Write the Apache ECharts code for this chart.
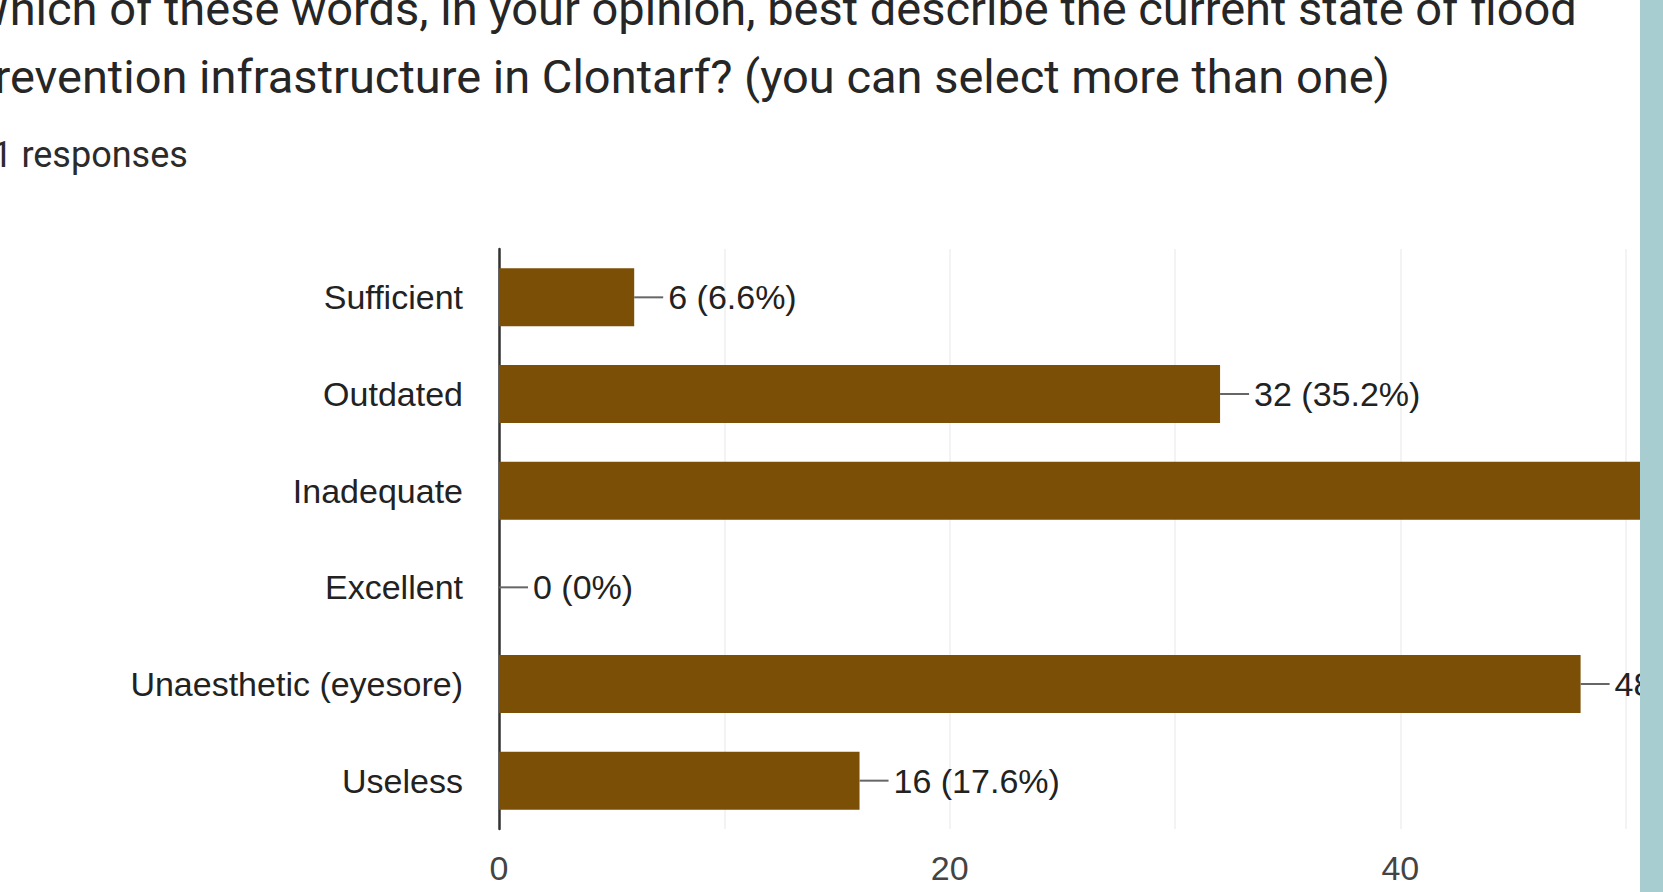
<!DOCTYPE html>
<html>
<head>
<meta charset="utf-8">
<script src="https://cdn.jsdelivr.net/npm/echarts@6/dist/echarts.min.js"></script>
<style>
  html, body { margin: 0; padding: 0; background: #ffffff; overflow: hidden; width: 1663px; height: 892px; }
  #chart { position: absolute; left: 0; top: 0; width: 1640px; height: 892px; overflow: hidden; }
  #edge { position: absolute; left: 1640px; top: 0; width: 23px; height: 892px; background: #a7cdd1; }
</style>
</head>
<body>
<div id="chart"></div>
<div id="edge"></div>
<script>
// Survey question and answer counts
const questionLines = [
  'Which of these words, in your opinion, best describe the current state of flood',
  'prevention infrastructure in Clontarf? (you can select more than one)'
];
const responseCount = 91;
const categories = ['Sufficient', 'Outdated', 'Inadequate', 'Excellent', 'Unaesthetic (eyesore)', 'Useless'];
const counts = [6, 32, 54, 0, 48, 16];
const axisMax = 60;
const axisStep = 10;
const labelStep = 20;

const chartFont = '"Liberation Sans", Arial, sans-serif';

function pctText(v) {
  const p = Math.round(v / responseCount * 1000) / 10;
  return p + '%';
}

const chart = echarts.init(document.getElementById('chart'), null, { renderer: 'svg' });

chart.setOption({
  animation: false,
  backgroundColor: '#ffffff',
  title: [
    {
      text: questionLines.join('\n'),
      left: -32,
      top: -26,
      padding: 0,
      textStyle: {
        fontFamily: 'Roboto, Arial, sans-serif',
        fontSize: 47,
        fontWeight: 'normal',
        color: '#262626',
        lineHeight: 68
      }
    },
    {
      text: responseCount + ' responses',
      left: -28,
      top: 135,
      padding: 0,
      textStyle: {
        fontFamily: 'Roboto, Arial, sans-serif',
        fontSize: 36,
        fontWeight: 'normal',
        color: '#2b2b2b',
        lineHeight: 40
      }
    }
  ],
  grid: {
    left: 499,
    top: 249,
    width: 1352,
    height: 580,
    outerBoundsMode: 'none',
    containLabel: false
  },
  xAxis: {
    type: 'value',
    min: 0,
    max: axisMax,
    interval: axisStep,
    axisLine: { show: false },
    axisTick: { show: false },
    splitLine: { show: true, lineStyle: { color: '#f3f3f3', width: 2 } },
    axisLabel: {
      margin: 22,
      fontFamily: chartFont,
      fontSize: 34,
      color: '#444444',
      formatter: v => (v % labelStep === 0 ? String(v) : '')
    }
  },
  yAxis: {
    type: 'category',
    data: categories,
    inverse: true,
    axisLine: { show: true, lineStyle: { color: '#333333', width: 2.5 } },
    axisTick: { show: false },
    splitLine: { show: false },
    axisLabel: {
      margin: 36,
      fontFamily: chartFont,
      fontSize: 34,
      color: '#222222'
    }
  },
  series: [{
    type: 'bar',
    data: counts,
    barWidth: 58,
    itemStyle: { color: '#7b5006' },
    label: {
      show: true,
      position: 'right',
      distance: 0,
      formatter: p => '{s| }{v|' + p.value + ' (' + pctText(p.value) + ')}',
      rich: {
        s: { width: 29, height: 2, backgroundColor: '#666666' },
        v: { fontFamily: chartFont, fontSize: 34, color: '#222222', padding: [0, 0, 0, 5] }
      }
    }
  }]
});
</script>
</body>
</html>
